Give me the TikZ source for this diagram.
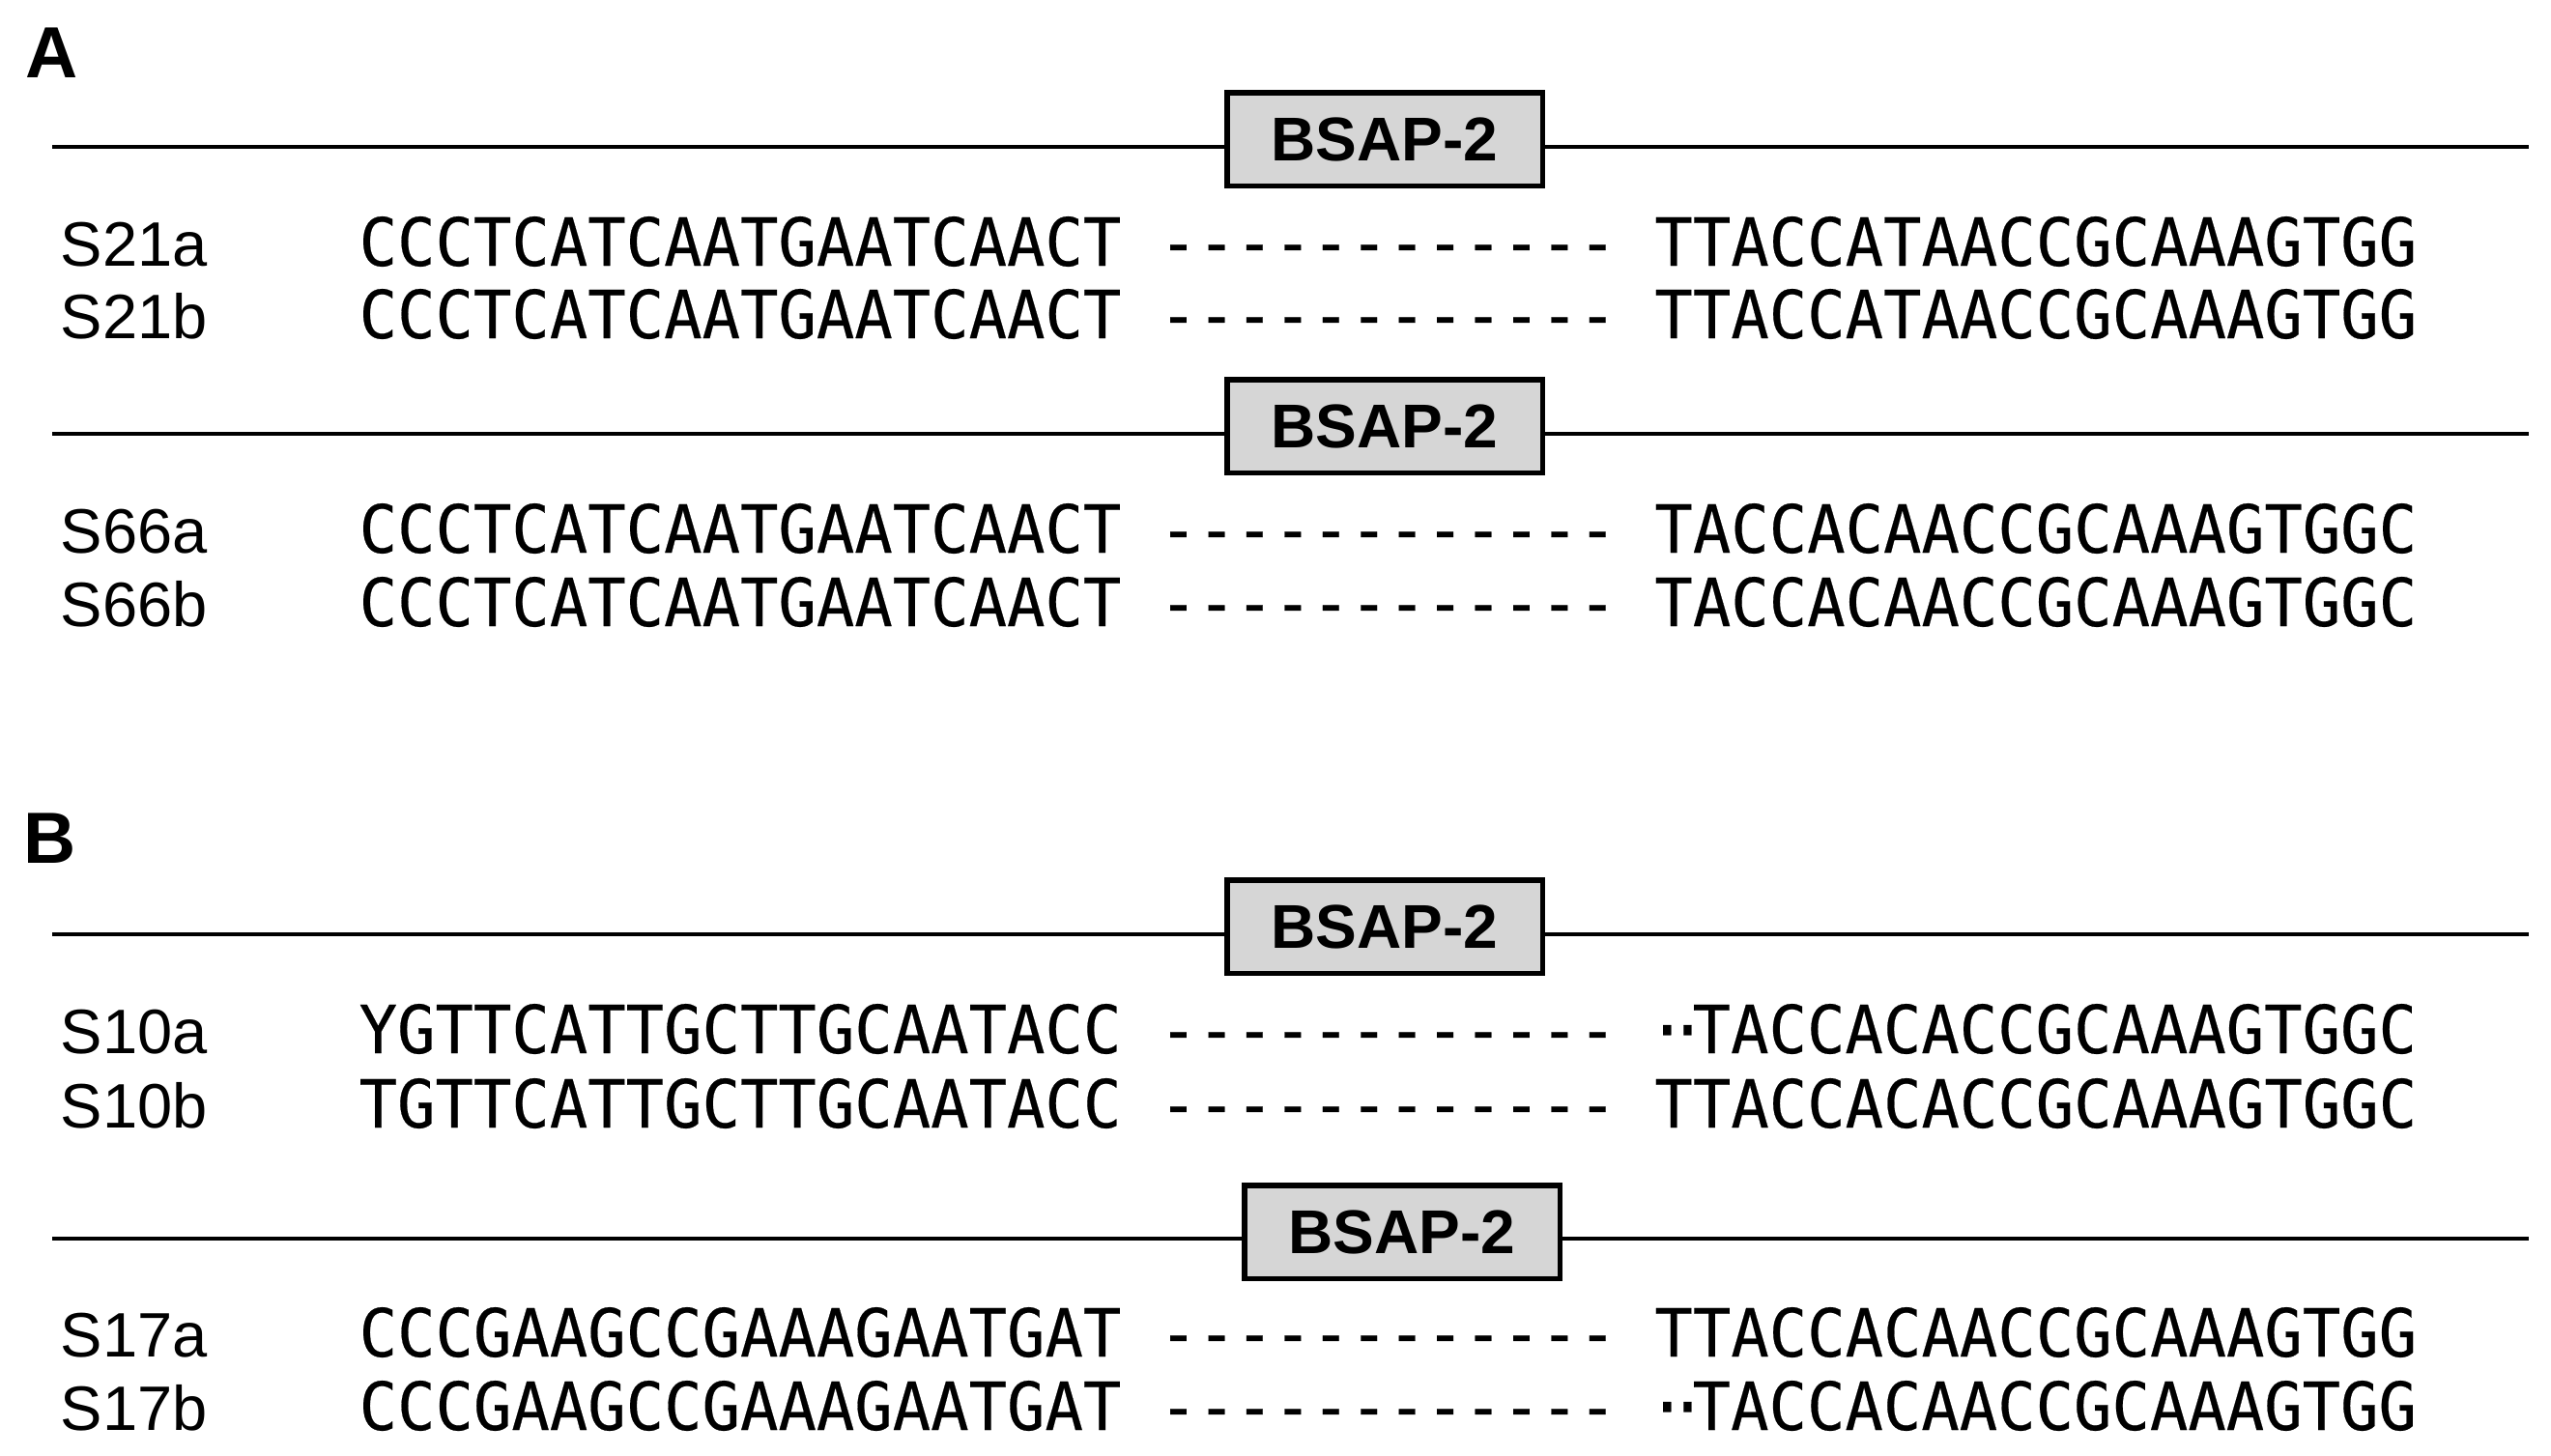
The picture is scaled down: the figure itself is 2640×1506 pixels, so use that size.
\documentclass[tikz,border=0pt]{standalone}
\usepackage{fontspec}
\setmainfont{Liberation Sans}
\newfontfamily\seqfont[FakeStretch=0.954,FakeBold=0.3]{DejaVu Sans Mono}
\newcommand{\gapdots}{\kern-0.1em·\kern-0.267em·\kern-0.211em}
\definecolor{boxgray}{RGB}{214,214,214}
\tikzset{
  lbl/.style={anchor=base west, inner sep=0pt, font=\fontsize{19.5pt}{20pt}\selectfont},
  seq/.style={anchor=base west, inner sep=0pt, font=\seqfont\fontsize{20.6pt}{21pt}\selectfont},
  site/.style={draw, line width=1.7pt, fill=boxgray, minimum width=98pt, minimum height=29pt,
    inner sep=0pt, font=\bfseries\fontsize{19.2pt}{20pt}\selectfont},
  panel/.style={anchor=base west, inner sep=0pt, font=\bfseries\fontsize{22.5pt}{23pt}\selectfont},
  dna/.style={line width=1.4pt},
}
\begin{document}
\begin{tikzpicture}[x=0.3pt, y=-0.3pt]
\useasboundingbox (0,0) rectangle (2640,1506);

% Panel A
\node[panel] (pA) at (26,80) {A};

\coordinate (l1w) at (54,152);
\coordinate (l1e) at (2617,152);
\node[site] (b1) at (1433,144) {BSAP-2};
\draw[dna] (l1w) -- (l1w -| b1.west);
\draw[dna] (l1e -| b1.east) -- (l1e);
\node[lbl] (n21a) at (62,275) {S21a};
\node[seq] (q21a) at (371,275) {CCCTCATCAATGAATCAACT ------------ TTACCATAACCGCAAAGTGG};
\node[lbl] (n21b) at (62,350) {S21b};
\node[seq] (q21b) at (371,350) {CCCTCATCAATGAATCAACT ------------ TTACCATAACCGCAAAGTGG};

\coordinate (l2w) at (54,449);
\coordinate (l2e) at (2617,449);
\node[site] (b2) at (1433,441) {BSAP-2};
\draw[dna] (l2w) -- (l2w -| b2.west);
\draw[dna] (l2e -| b2.east) -- (l2e);
\node[lbl] (n66a) at (62,572) {S66a};
\node[seq] (q66a) at (371,572) {CCCTCATCAATGAATCAACT ------------ TACCACAACCGCAAAGTGGC};
\node[lbl] (n66b) at (62,648) {S66b};
\node[seq] (q66b) at (371,648) {CCCTCATCAATGAATCAACT ------------ TACCACAACCGCAAAGTGGC};

% Panel B
\node[panel] (pB) at (24,893) {B};

\coordinate (l3w) at (54,967);
\coordinate (l3e) at (2617,967);
\node[site] (b3) at (1433,959) {BSAP-2};
\draw[dna] (l3w) -- (l3w -| b3.west);
\draw[dna] (l3e -| b3.east) -- (l3e);
\node[lbl] (n10a) at (62,1090) {S10a};
\node[seq] (q10a) at (371,1090) {YGTTCATTGCTTGCAATACC ------------ \gapdots TACCACACCGCAAAGTGGC};
\node[lbl] (n10b) at (62,1167) {S10b};
\node[seq] (q10b) at (371,1167) {TGTTCATTGCTTGCAATACC ------------ TTACCACACCGCAAAGTGGC};

\coordinate (l4w) at (54,1282);
\coordinate (l4e) at (2617,1282);
\node[site] (b4) at (1451,1275) {BSAP-2};
\draw[dna] (l4w) -- (l4w -| b4.west);
\draw[dna] (l4e -| b4.east) -- (l4e);
\node[lbl] (n17a) at (62,1404) {S17a};
\node[seq] (q17a) at (371,1404) {CCCGAAGCCGAAAGAATGAT ------------ TTACCACAACCGCAAAGTGG};
\node[lbl] (n17b) at (62,1480) {S17b};
\node[seq] (q17b) at (371,1480) {CCCGAAGCCGAAAGAATGAT ------------ \gapdots TACCACAACCGCAAAGTGG};
\end{tikzpicture}
\end{document}
